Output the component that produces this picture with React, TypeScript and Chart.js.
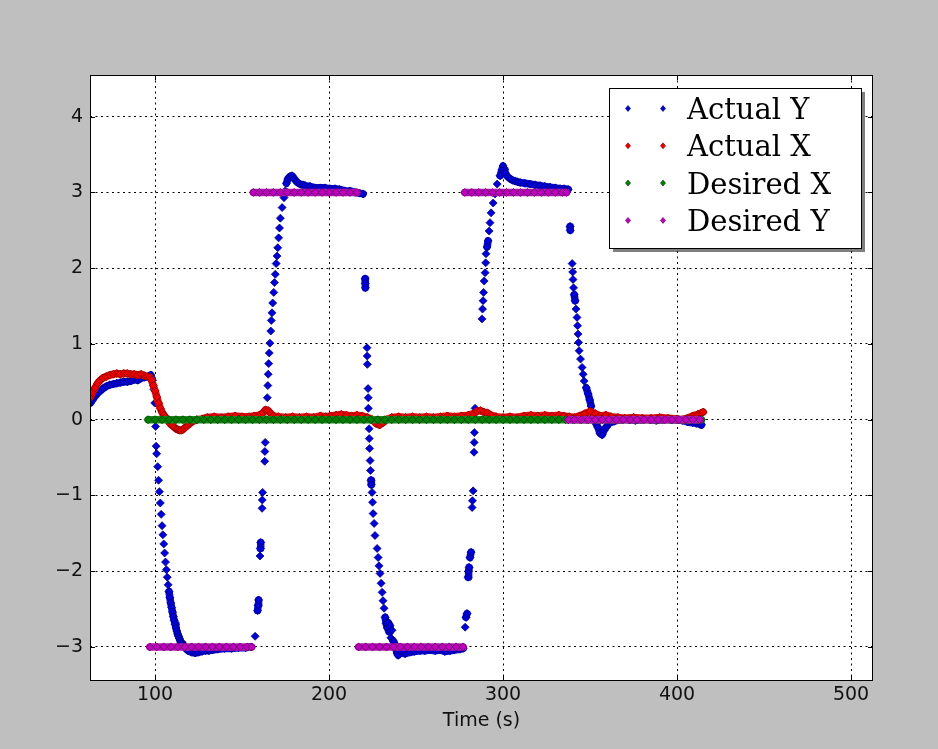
import React, { useEffect, useRef } from "react";
import { Chart, registerables } from "chart.js";

Chart.register(...registerables);

// ---------- data ----------
const seriesNames = ["Actual Y", "Actual X", "Desired X", "Desired Y"];
const xTicks = [100, 200, 300, 400, 500];
const yTicks = [-3, -2, -1, 0, 1, 2, 3, 4];
const xRange = [62.6, 512.6];
const yRange = [-3.45, 4.55];
const xTitle = "Time (s)";

const actualY: number[][] = [
  [62.8,0.22],[64,0.26],[65.5,0.31],[67,0.35],[68.5,0.38],[70,0.41],[72,0.44],[74,0.46],[76,0.47],[78,0.48],[80,0.49],[82,0.5],[84,0.5],[86,0.51],[88,0.53],[90,0.52],[92,0.55],[94,0.56],[96,0.57],[97.5,0.59],[98.5,0.52],[99.3,0.4],[99.8,0.22],
  [100.3,-0.09],[100.6,-0.35],[100.9,-0.45],[101.5,-0.62],[102,-0.8],[102.5,-0.95],[103,-1.1],[103.5,-1.25],[104,-1.4],[104.5,-1.52],[105,-1.64],[105.5,-1.76],[106,-1.88],[106.5,-1.98],[107,-2.08],[107.5,-2.18],[108,-2.27],[108.5,-2.35],[109,-2.42],[109.5,-2.48],[110,-2.54],[110.5,-2.6],[111,-2.65],[111.5,-2.7],[112,-2.75],[112.5,-2.79],[113,-2.83],[113.5,-2.86],[114,-2.89],[114.5,-2.92],[115,-2.94],[115.5,-2.96],[116,-2.98],[117,-3.0],[118,-3.03],
  [119,-3.05],[121,-3.07],[123,-3.08],[125,-3.07],[127,-3.06],[129,-3.05],[131,-3.05],[133,-3.04],[136,-3.03],[140,-3.02],[144,-3.02],[148,-3.01],[152,-3.01],[155,-3.0],
  [157.5,-2.86],[158.9,-2.52],[159.2,-2.45],[159.5,-2.38],[160.3,-1.8],[160.5,-1.7],[160.7,-1.62],[161.5,-1.17],[161.6,-1.06],[161.8,-0.96],[163,-0.55],[163.1,-0.42],[163.3,-0.3],
  [164.5,0.29],[164.8,0.45],[165,0.6],[165.3,0.74],[165.6,0.88],[166,1.01],[166.5,1.17],[166.8,1.31],[167.2,1.41],[167.6,1.54],[168.2,1.68],[168.6,1.81],[169.1,1.92],[169.6,2.06],[170.1,2.16],[170.5,2.27],[171,2.4],[171.5,2.53],[172,2.66],[173,2.8],[174.1,2.93],[174.7,3.02],[175.5,3.12],[176.4,3.18],[177.5,3.21],[178.7,3.22],[180,3.18],[181,3.15],[182,3.13],[183.3,3.11],[185,3.1],[186.2,3.09],[189,3.08],[192,3.06],[195,3.06],[197.7,3.06],[200.5,3.05],[203.4,3.05],[206,3.04],[209.2,3.02],[212,3.02],[214.9,3.0],[217.5,2.99],[219.5,2.98],
  [220.7,1.86],[220.8,1.8],[220.9,1.74],[221.8,0.95],[221.9,0.84],[222,0.73],[222.4,0.41],[222.5,0.29],[222.6,0.15],
  [223,-0.12],[223.1,-0.25],[223.3,-0.38],[223.6,-0.54],[223.8,-0.67],[224.1,-0.8],[224.3,-0.86],[224.7,-0.96],[225,-1.09],[225.3,-1.24],[225.9,-1.37],[226.4,-1.53],[227.6,-1.7],[228.2,-1.82],[228.7,-1.93],[229.3,-2.03],[229.9,-2.16],[230.5,-2.28],[231,-2.39],[231.6,-2.49],[232.2,-2.61],[232.8,-2.69],[233.5,-2.75],[234,-2.68],[234.5,-2.8],[235,-2.72],[235.5,-2.88],[236.2,-2.78],[236.8,-2.92],[237.5,-2.95],[238.2,-3.0],[239,-3.08],[239.7,-3.11],[241,-3.05],[243.7,-3.09],[246.6,-3.07],[249,-3.06],[252.3,-3.05],[255,-3.05],[258,-3.04],[261,-3.05],[263.8,-3.04],[266.5,-3.06],[269.5,-3.05],[272,-3.04],[275.3,-3.03],[277,-3.02],
  [278.2,-2.74],[278.7,-2.61],[279.3,-2.56],[279.9,-2.08],[280.2,-2.0],[280.5,-1.95],[281,-1.82],[281.6,-1.75],[282.2,-1.16],[282.4,-1.07],[282.8,-0.94],[283.3,-0.43],[283.4,-0.3],[283.5,-0.17],[283.9,0.15],
  [287.9,1.33],[288.2,1.46],[288.5,1.57],[288.8,1.68],[289.1,1.83],[289.7,1.94],[290,2.07],[290.2,2.19],[290.8,2.28],[291.4,2.36],[292,2.49],[292.5,2.6],[293.1,2.73],[294.3,2.86],[295.4,2.98],[296.6,3.11],[298.3,3.22],[299.4,3.3],[300,3.35],[300.6,3.3],[301.1,3.26],[302.5,3.21],[304,3.18],[305.5,3.16],[306.9,3.15],[308.3,3.14],[309.8,3.13],[312.5,3.12],[315.5,3.11],[318.5,3.1],[321.3,3.09],[324,3.08],[327,3.07],[330,3.06],[332.8,3.05],[335,3.05],[337.4,3.04],
  [338.5,2.55],[338.6,2.5],
  [339.7,2.06],[340,1.95],[340.2,1.85],[340.5,1.74],[340.9,1.65],[341.4,1.57],[341.9,1.46],[342.5,1.35],[342.8,1.24],[343.1,1.13],[343.4,1.02],[343.7,0.91],[344.5,0.8],[345.4,0.69],[346,0.6],[346.6,0.51],[347.8,0.42],[348.9,0.34],[349.8,0.26],[350.6,0.18],[351.7,0.08],[352.5,0.02],[353.4,-0.05],[354.5,-0.1],[355.7,-0.18],[356.9,-0.2],[358,-0.14],[359.2,-0.1],[360.5,-0.06],[361.5,-0.04],[364,-0.02],[367,0],[370,0.01],[373,0],[376,-0.01],[379,0],[382,0.01],[385,0],[388,-0.01],[391,0],[394,0.01],[397,0],[400,0],[403,-0.01],[406,-0.03],[409,-0.04],[411,-0.05],[413,-0.06],[414,-0.07],
];

const actualX: number[][] = [
  [62.8,0.3],[64,0.36],[65.5,0.42],[67,0.48],[68.5,0.52],[70,0.55],[72,0.57],[74,0.59],[76,0.6],[78,0.61],[80,0.6],[82,0.61],[84,0.61],[86,0.6],[88,0.6],[90,0.59],[92,0.6],[94,0.58],[95.5,0.57],[97,0.56],[98,0.52],[99,0.45],[100,0.38],[101,0.3],[102,0.22],[103,0.15],[104,0.1],[105,0.06],[106,0.03],[107,0],[108,-0.03],[109,-0.06],[110,-0.08],[111,-0.1],[112,-0.12],[113,-0.13],[114,-0.14],[115,-0.14],[116,-0.13],[117,-0.11],[118,-0.09],[119,-0.07],[120,-0.05],[121,-0.03],[122,-0.02],[124,0],[127,0.01],
  [130,0.03],[134,0.04],[138,0.03],[142,0.04],[146,0.05],[150,0.04],[154,0.04],[157,0.05],[160,0.06],[162,0.09],[163.5,0.13],[165,0.12],[166.5,0.08],[168,0.05],[171,0.04],[175,0.03],[179,0.04],[183,0.03],[187,0.04],[191,0.03],[195,0.05],[198,0.04],[201,0.05],[204,0.06],[207,0.07],[210,0.06],[213,0.05],[216,0.06],[219,0.05],[222,0.03],[225,0],[227,-0.05],[229,-0.07],[231,-0.04],[233,0],[236,0.03],[240,0.04],[244,0.03],[248,0.04],[252,0.03],[256,0.04],[260,0.03],[264,0.04],[268,0.05],[272,0.04],[276,0.05],[280,0.06],[283,0.08],[285,0.11],[287,0.12],[289,0.1],[291,0.09],[293,0.06],[296,0.04],[300,0.03],[304,0.04],[308,0.03],[312,0.05],[316,0.06],[320,0.05],[324,0.06],[328,0.05],[332,0.06],[335,0.05],[338,0.04],[341,0.03],[344,0.05],[347,0.08],[350,0.11],[353,0.08],[356,0.05],[359,0.06],[362,0.04],[366,0.03],[370,0.02],[375,0.03],[380,0.02],[385,0.02],[390,0.03],[395,0.02],[400,0.01],[403,0],[406,0.02],[409,0.05],[412,0.07],[414,0.09],[415,0.1],
];

const desiredX: number[][] = [
  [96,0],[100,0],[104,0],[108,0],[112,0],[116,0],[120,0],[124,0],[128,0],[132,0],[136,0],[140,0],[144,0],[148,0],[152,0],[156,0],[160,0],[164,0],[168,0],[172,0],[176,0],[180,0],[184,0],[188,0],[192,0],[196,0],[200,0],[204,0],[208,0],[212,0],[216,0],[220,0],[224,0],[228,0],[232,0],[236,0],[240,0],[244,0],[248,0],[252,0],[256,0],[260,0],[264,0],[268,0],[272,0],[276,0],[280,0],[284,0],[288,0],[292,0],[296,0],[300,0],[304,0],[308,0],[312,0],[316,0],[320,0],[324,0],[328,0],[332,0],[336,0],[340,0],[344,0],[348,0],[352,0],[356,0],[360,0],[364,0],[368,0],[372,0],[376,0],[380,0],[384,0],[388,0],[392,0],[396,0],[400,0],[404,0],[408,0],[412,0],[414,0],
];

const desiredY: number[][] = [
  [97,-3],[101,-3],[105,-3],[109,-3],[113,-3],[117,-3],[121,-3],[125,-3],[129,-3],[133,-3],[137,-3],[141,-3],[145,-3],[149,-3],[153,-3],[155.5,-3],
  [156.5,3],[160,3],[164,3],[168,3],[172,3],[176,3],[180,3],[184,3],[188,3],[192,3],[196,3],[200,3],[204,3],[208,3],[212,3],[216,3],
  [217,-3],[221,-3],[225,-3],[229,-3],[233,-3],[237,-3],[241,-3],[245,-3],[249,-3],[253,-3],[257,-3],[261,-3],[265,-3],[269,-3],[273,-3],[277,-3],
  [278,3],[282,3],[286,3],[290,3],[294,3],[298,3],[302,3],[306,3],[310,3],[314,3],[318,3],[322,3],[326,3],[330,3],[334,3],[336.5,3],
  [337.5,0],[341,0],[345,0],[349,0],[353,0],[357,0],[361,0],[365,0],[369,0],[373,0],[377,0],[381,0],[385,0],[389,0],[393,0],[397,0],[401,0],[405,0],[409,0],[413,0],
];

// ---------- styles ----------
const seriesData = [actualY, actualX, desiredX, desiredY];
const seriesStyle = [
  { fill: "#0000d8", edge: "#000060", line: "#0a0ae0", order: 4 },
  { fill: "#ee0000", edge: "#700000", line: "#e41010", order: 3 },
  { fill: "#008000", edge: "#003000", line: "#1a861a", order: 2 },
  { fill: "#bf00bf", edge: "#500050", line: "#b414b4", order: 1 },
];

const fmtTick = (v: number) => (v < 0 ? "\u2212" + Math.abs(v) : String(v));

function diamond(ctx: CanvasRenderingContext2D, x: number, y: number, r: number, fill: string, edge: string) {
  ctx.beginPath();
  ctx.moveTo(x, y - r);
  ctx.lineTo(x + r * 0.85, y);
  ctx.lineTo(x, y + r);
  ctx.lineTo(x - r * 0.85, y);
  ctx.closePath();
  ctx.fillStyle = fill;
  ctx.fill();
  ctx.strokeStyle = edge;
  ctx.lineWidth = 0.6;
  ctx.stroke();
}

const framePlugin = {
  id: "mplFrame",
  beforeDraw(chart: any) {
    const { ctx, chartArea: a } = chart;
    ctx.save();
    ctx.fillStyle = "#bfbfbf";
    ctx.fillRect(0, 0, chart.width, chart.height);
    ctx.fillStyle = "#ffffff";
    ctx.fillRect(a.left, a.top, a.right - a.left, a.bottom - a.top);
    ctx.restore();
  },
  afterDraw(chart: any) {
    const { ctx, chartArea: a, scales } = chart;
    ctx.save();
    ctx.strokeStyle = "#000";
    ctx.lineWidth = 1;
    ctx.setLineDash([]);
    ctx.strokeRect(Math.round(a.left) + 0.5, Math.round(a.top) + 0.5, Math.round(a.right - a.left) - 1, Math.round(a.bottom - a.top) - 1);
    ctx.beginPath();
    for (const v of xTicks) {
      const px = Math.round(scales.x.getPixelForValue(v)) + 0.5;
      ctx.moveTo(px, a.bottom); ctx.lineTo(px, a.bottom - 5);
      ctx.moveTo(px, a.top); ctx.lineTo(px, a.top + 5);
    }
    for (const v of yTicks) {
      const py = Math.round(scales.y.getPixelForValue(v)) + 0.5;
      ctx.moveTo(a.left, py); ctx.lineTo(a.left + 5, py);
      ctx.moveTo(a.right, py); ctx.lineTo(a.right - 5, py);
    }
    ctx.stroke();

    // legend (matplotlib style)
    const bw = 252, bh = 160;
    const bx = Math.round(a.right) - 264, by = Math.round(a.top) + 13;
    ctx.fillStyle = "rgba(0,0,0,0.5)";
    ctx.fillRect(bx + 4, by + 4, bw, bh);
    ctx.fillStyle = "#ffffff";
    ctx.fillRect(bx, by, bw, bh);
    ctx.strokeStyle = "#000";
    ctx.lineWidth = 1;
    ctx.strokeRect(bx + 0.5, by + 0.5, bw, bh);
    ctx.font = '29px "DejaVu Serif"';
    ctx.textBaseline = "alphabetic";
    ctx.textAlign = "left";
    seriesNames.forEach((name, i) => {
      const cy = by + 20.5 + i * 37.3;
      const st = seriesStyle[i];
      diamond(ctx, bx + 19, cy, 3, st.fill, st.edge);
      diamond(ctx, bx + 54, cy, 3, st.fill, st.edge);
      ctx.fillStyle = "#000";
      ctx.fillText(name, bx + 78, cy + 10.5);
    });
    ctx.restore();
  },
};

export default function App() {
  const ref = useRef<HTMLCanvasElement>(null);
  useEffect(() => {
    const canvas = ref.current;
    if (!canvas) return;
    const datasets = seriesNames.map((name, i) => {
      const st = seriesStyle[i];
      return {
        label: name,
        data: seriesData[i].map(([x, y]) => ({ x, y })),
        showLine: true,
        borderColor: st.line,
        borderWidth: 7.5,
        borderCapStyle: "round",
        borderJoinStyle: "round",
        tension: 0,
        segment: {
          borderColor: (c: any) =>
            Math.abs(c.p1.y - c.p0.y) > 6.5 || Math.abs(c.p1.x - c.p0.x) > 12 ? "rgba(0,0,0,0)" : undefined,
        },
        pointStyle: "rectRot",
        pointRadius: 4,
        pointBackgroundColor: st.fill,
        pointBorderColor: st.edge,
        pointBorderWidth: 0.7,
        order: st.order,
        clip: 0,
      };
    });
    const tickFont = { family: "DejaVu Sans", size: 19 };
    const chart = new Chart(canvas, {
      type: "scatter",
      data: { datasets } as any,
      options: {
        responsive: false,
        animation: false,
        devicePixelRatio: 1,
        events: [],
        layout: { padding: { top: 75, right: 65, bottom: 0, left: 0 }, autoPadding: false },
        plugins: { legend: { display: false }, tooltip: { enabled: false } },
        scales: {
          x: {
            type: "linear",
            min: xRange[0],
            max: xRange[1],
            z: 1,
            afterBuildTicks: (s: any) => { s.ticks = xTicks.map((v) => ({ value: v })); },
            afterFit: (s: any) => { s.height = 68; },
            grid: { color: "#000", lineWidth: 1, drawTicks: false },
            border: { display: false, dash: [2, 3.5] },
            ticks: { font: tickFont, color: "#111", padding: 3, maxRotation: 0, autoSkip: false, callback: (v: any) => fmtTick(Number(v)) },
            title: { display: true, text: xTitle, font: tickFont, color: "#111", padding: { top: 0, bottom: 16.6 } },
          },
          y: {
            type: "linear",
            min: yRange[0],
            max: yRange[1],
            z: 1,
            afterBuildTicks: (s: any) => { s.ticks = yTicks.map((v) => ({ value: v })); },
            afterFit: (s: any) => { s.width = 90; },
            grid: { color: "#000", lineWidth: 1, drawTicks: false },
            border: { display: false, dash: [2, 3.5] },
            ticks: { font: tickFont, color: "#111", padding: 7, autoSkip: false, callback: (v: any) => fmtTick(Number(v)) },
          },
        },
      } as any,
      plugins: [framePlugin as any],
    });
    return () => chart.destroy();
  }, []);
  return (
    <div style={{ position: "absolute", left: 0, top: 0, width: 938, height: 749, background: "#bfbfbf" }}>
      <canvas ref={ref} width={938} height={749} style={{ display: "block", width: 938, height: 749 }} />
    </div>
  );
}
